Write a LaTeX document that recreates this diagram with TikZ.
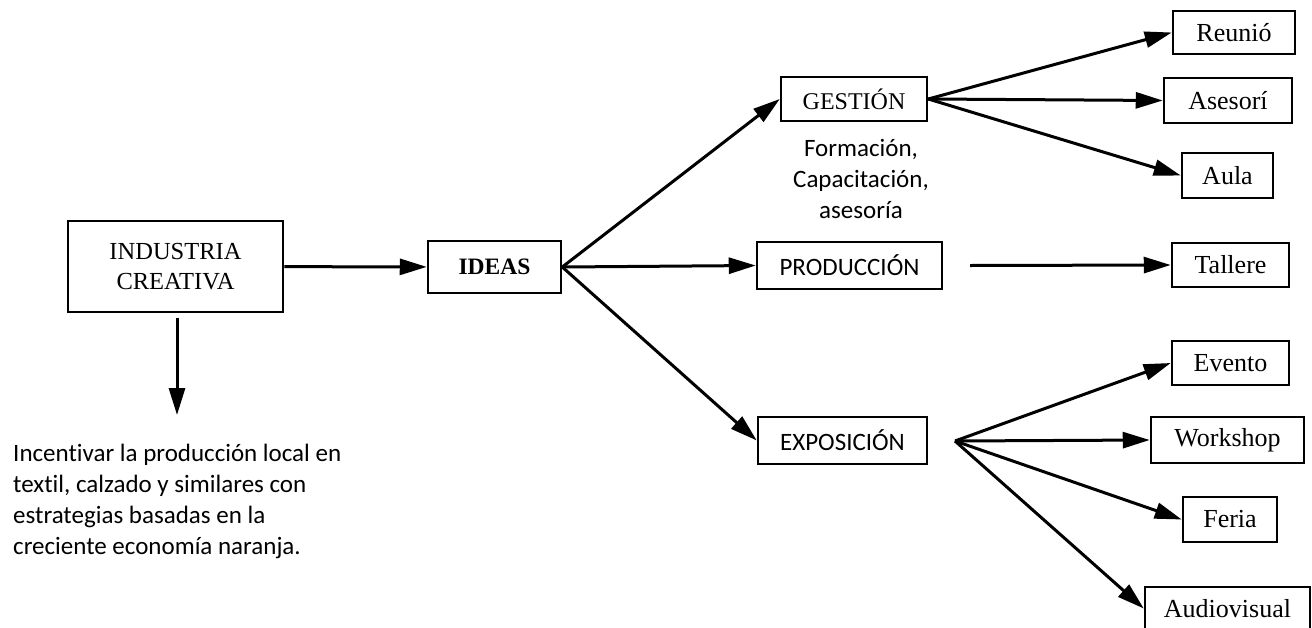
\documentclass[tikz,border=0pt]{standalone}
\usepackage{fontspec}
\setmainfont{Liberation Serif}
\newfontfamily\calibri[Ligatures=NoCommon]{Carlito}
\usetikzlibrary{arrows.meta}

\begin{document}
\begin{tikzpicture}[x=1pt, y=-1pt, >={Triangle[length=27pt, width=16pt]},
		b/.style={draw, line width=2.5pt, inner sep=0pt, minimum height=44pt, font=\fontsize{26}{30}\selectfont},
		k/.style={b, font=\calibri\fontsize{25}{30}\selectfont},
		t/.style={align=left, inner sep=0pt, font=\calibri\fontsize{25}{31}\selectfont}]
		\useasboundingbox (0,0) rectangle (1312,627);

		\node [b, minimum width=215pt, minimum height=91pt, align=center, font=\fontsize{24.5}{30}\selectfont] (I) at (175.5,266.5) {INDUSTRIA\\CREATIVA};
		\node [b, minimum width=133pt, minimum height=52pt, font=\bfseries\fontsize{23.5}{28}\selectfont] (D) at (494.5,267) {IDEAS};
		\node [b, minimum width=146pt, font=\fontsize{24}{28}\selectfont] (G) at (854,99) {GESTIÓN};
		\node [k, minimum width=185pt, minimum height=47pt] (P) at (849.5,265.5) {PRODUCCIÓN};
		\node [k, minimum width=169pt, minimum height=47pt] (E) at (842.5,440.5) {EXPOSICIÓN};

		\node [t, align=center] (G note) at (861,179) {Formación,\\Capacitación,\\asesoría};
		\node [t, anchor=west] (I note) at (13,501) {Incentivar la producción local en\\textil, calzado y similares con\\estrategias basadas en la\\creciente economía naranja.};

		\node [b, minimum width=122pt, minimum height=43pt] (R) at (1234,32.5) {Reunió};
		\node [b, minimum width=128pt, minimum height=45pt] (S) at (1228,100.5) {Asesorí};
		\node [b, minimum width=91pt, minimum height=45pt] (U) at (1227.5,175.5) {Aula};
		\node [b, minimum width=117pt] (T) at (1230.5,265) {Tallere};
		\node [b, minimum width=117pt] (V) at (1230.5,363) {Evento};
		\node [b, minimum width=153pt, minimum height=46pt] (W) at (1227.5,440) {Workshop};
		\node [b, minimum width=94pt, minimum height=45pt] (F) at (1230,519.5) {Feria};
		\node [b, minimum width=165pt, minimum height=43pt] (A) at (1227.5,608.5) {Audiovisual};

		\coordinate (I tip) at (177,415);
		\coordinate (P out) at (970,265.5);
		\coordinate (E out) at (955,441);

		\path[->, line width=3pt] (I) edge (D);
		\path[->, line width=3pt] ([xshift=1.5pt, yshift=-5pt]I.south) edge (I tip);
		\path[->, line width=3pt] (D.east) edge (G.west);
		\path[->, line width=3pt] (D.east) edge (P.west);
		\path[->, line width=3pt] (D.east) edge (E.west);
		\path[->, line width=3pt] (G.east) edge (R.west);
		\path[->, line width=3pt] (G.east) edge (S.west);
		\path[->, line width=3pt] (G.east) edge (U.west);
		\path[->, line width=3pt] (P out) edge (T.west);
		\path[->, line width=3pt] (E out) edge (V.west);
		\path[->, line width=3pt] (E out) edge (W.west);
		\path[->, line width=3pt] (E out) edge (F.west);
		\path[->, line width=3pt] (E out) edge (A.west);
	\end{tikzpicture}
\end{document}
